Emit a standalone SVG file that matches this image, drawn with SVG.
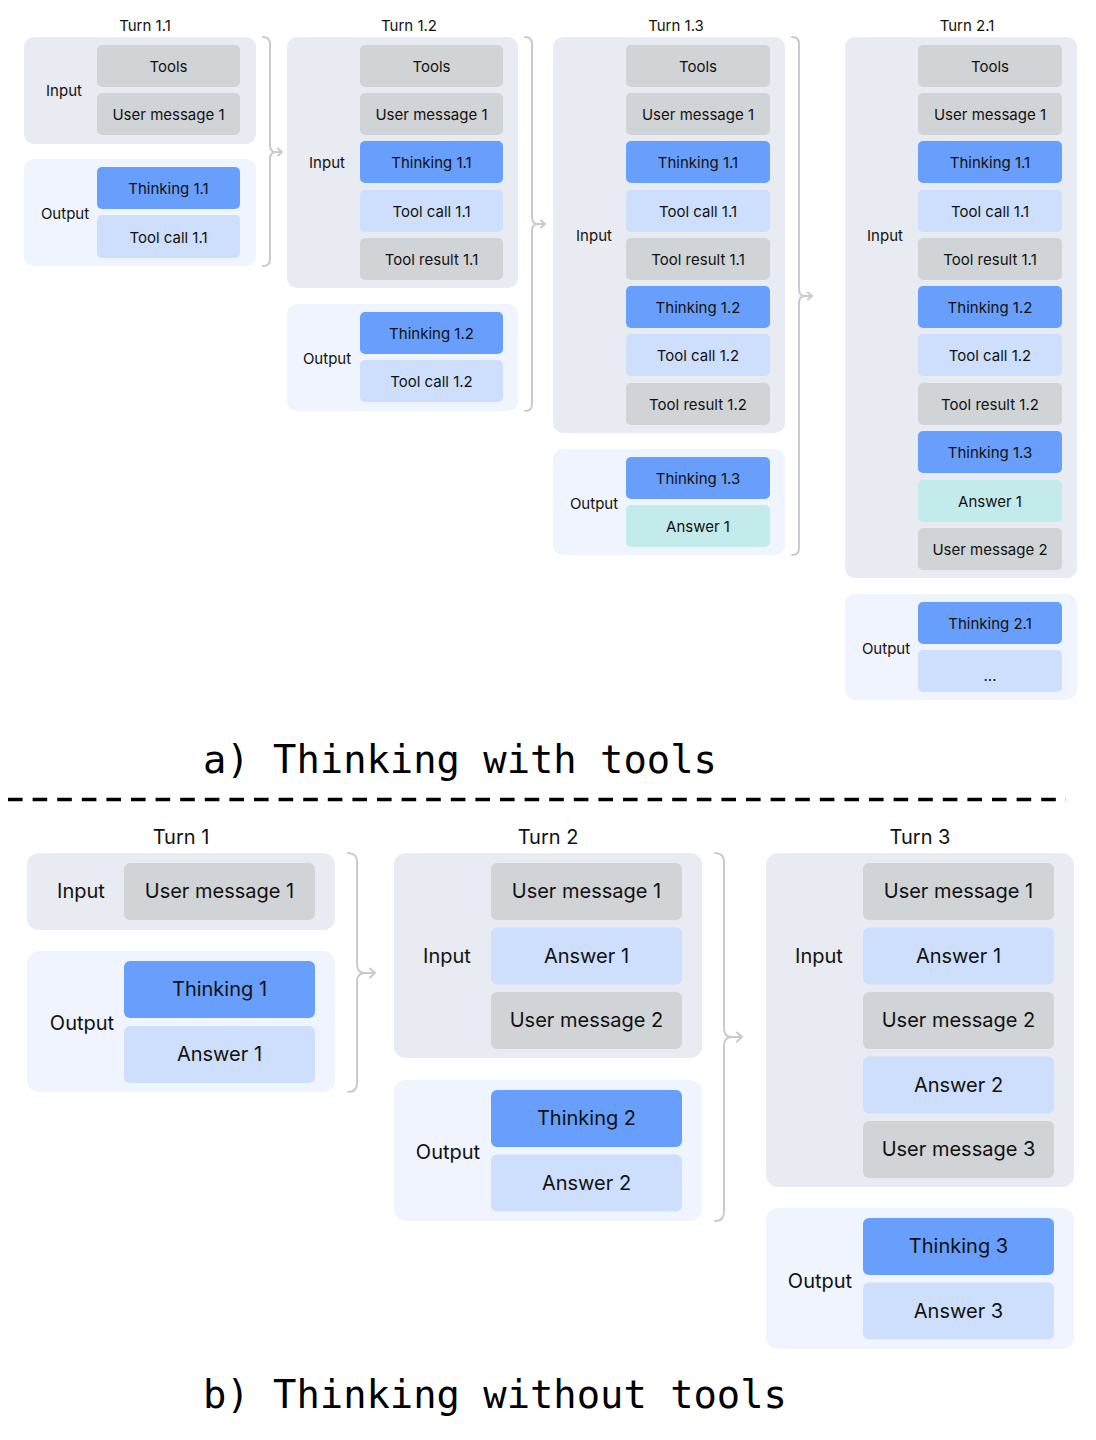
<svg xmlns="http://www.w3.org/2000/svg" width="1096" height="1440" viewBox="0 0 1096 1440">
<style>
text{font-family:Inter,"Noto Sans","Liberation Sans",sans-serif;fill:#111;text-anchor:middle}
.sa{font-size:15px}
.sb{font-size:20px}
.pin{fill:#e8ebf1}
.pout{fill:#eff4fe}
.g{fill:#d1d4d7}
.t{fill:#689ffc}
.l{fill:#cddffc}
.a{fill:#c4ebeb}
.br{fill:none;stroke:#c9cbcf;stroke-width:2;stroke-linecap:round;stroke-linejoin:round}
.ttl{font-family:"DejaVu Sans Mono","Liberation Mono",monospace;font-size:38.8px;text-anchor:start;fill:#000}
</style>
<rect width="1096" height="1440" fill="#fff"/>

<!-- Part a -->
<g id="turn11" class="sa">
<text x="145" y="31">Turn 1.1</text>
<rect class="pin" x="24" y="37" width="232" height="107" rx="10"/>
<text x="64" y="96">Input</text>
<rect class="g" x="97" y="45" width="143" height="42" rx="5"/><text x="168.5" y="72">Tools</text>
<rect class="g" x="97" y="93" width="143" height="42" rx="5"/><text x="168.5" y="120">User message 1</text>
<rect class="pout" x="24" y="159" width="232" height="107" rx="10"/>
<text x="65" y="219">Output</text>
<rect class="t" x="97" y="167" width="143" height="42" rx="5"/><text x="168.5" y="194">Thinking 1.1</text>
<rect class="l" x="97" y="215" width="143" height="43" rx="5"/><text x="168.5" y="243">Tool call 1.1</text>
</g>

<g id="turn12" class="sa">
<text x="409" y="31">Turn 1.2</text>
<rect class="pin" x="287" y="37" width="231" height="251" rx="10"/>
<text x="327" y="168">Input</text>
<rect class="g" x="360" y="45" width="143" height="42" rx="5"/><text x="431.5" y="72">Tools</text>
<rect class="g" x="360" y="93" width="143" height="42" rx="5"/><text x="431.5" y="120">User message 1</text>
<rect class="t" x="360" y="141" width="143" height="42" rx="5"/><text x="431.5" y="168">Thinking 1.1</text>
<rect class="l" x="360" y="190" width="143" height="42" rx="5"/><text x="431.5" y="217">Tool call 1.1</text>
<rect class="g" x="360" y="238" width="143" height="42" rx="5"/><text x="431.5" y="265">Tool result 1.1</text>
<rect class="pout" x="287" y="304" width="231" height="107" rx="10"/>
<text x="327" y="364">Output</text>
<rect class="t" x="360" y="312" width="143" height="42" rx="5"/><text x="431.5" y="339">Thinking 1.2</text>
<rect class="l" x="360" y="360" width="143" height="42" rx="5"/><text x="431.5" y="387">Tool call 1.2</text>
</g>

<g id="turn13" class="sa">
<text x="676" y="31">Turn 1.3</text>
<rect class="pin" x="553" y="37" width="232" height="396" rx="10"/>
<text x="594" y="241">Input</text>
<rect class="g" x="626" y="45" width="144" height="42" rx="5"/><text x="698" y="72">Tools</text>
<rect class="g" x="626" y="93" width="144" height="42" rx="5"/><text x="698" y="120">User message 1</text>
<rect class="t" x="626" y="141" width="144" height="42" rx="5"/><text x="698" y="168">Thinking 1.1</text>
<rect class="l" x="626" y="190" width="144" height="42" rx="5"/><text x="698" y="217">Tool call 1.1</text>
<rect class="g" x="626" y="238" width="144" height="42" rx="5"/><text x="698" y="265">Tool result 1.1</text>
<rect class="t" x="626" y="286" width="144" height="42" rx="5"/><text x="698" y="313">Thinking 1.2</text>
<rect class="l" x="626" y="334" width="144" height="42" rx="5"/><text x="698" y="361">Tool call 1.2</text>
<rect class="g" x="626" y="383" width="144" height="42" rx="5"/><text x="698" y="410">Tool result 1.2</text>
<rect class="pout" x="553" y="449" width="232" height="106" rx="10"/>
<text x="594" y="509">Output</text>
<rect class="t" x="626" y="457" width="144" height="42" rx="5"/><text x="698" y="484">Thinking 1.3</text>
<rect class="a" x="626" y="505" width="144" height="42" rx="5"/><text x="698" y="532">Answer 1</text>
</g>

<g id="turn21" class="sa">
<text x="967" y="31">Turn 2.1</text>
<rect class="pin" x="845" y="37" width="232" height="541" rx="10"/>
<text x="885" y="241">Input</text>
<rect class="g" x="918" y="45" width="144" height="42" rx="5"/><text x="990" y="72">Tools</text>
<rect class="g" x="918" y="93" width="144" height="42" rx="5"/><text x="990" y="120">User message 1</text>
<rect class="t" x="918" y="141" width="144" height="42" rx="5"/><text x="990" y="168">Thinking 1.1</text>
<rect class="l" x="918" y="190" width="144" height="42" rx="5"/><text x="990" y="217">Tool call 1.1</text>
<rect class="g" x="918" y="238" width="144" height="42" rx="5"/><text x="990" y="265">Tool result 1.1</text>
<rect class="t" x="918" y="286" width="144" height="42" rx="5"/><text x="990" y="313">Thinking 1.2</text>
<rect class="l" x="918" y="334" width="144" height="42" rx="5"/><text x="990" y="361">Tool call 1.2</text>
<rect class="g" x="918" y="383" width="144" height="42" rx="5"/><text x="990" y="410">Tool result 1.2</text>
<rect class="t" x="918" y="431" width="144" height="42" rx="5"/><text x="990" y="458">Thinking 1.3</text>
<rect class="a" x="918" y="480" width="144" height="42" rx="5"/><text x="990" y="507">Answer 1</text>
<rect class="g" x="918" y="528" width="144" height="42" rx="5"/><text x="990" y="555">User message 2</text>
<rect class="pout" x="845" y="594" width="232" height="106" rx="10"/>
<text x="886" y="654">Output</text>
<rect class="t" x="918" y="602" width="144" height="42" rx="5"/><text x="990" y="629">Thinking 2.1</text>
<rect class="l" x="918" y="650" width="144" height="42" rx="5"/><text x="990" y="681">...</text>
</g>

<!-- Part b -->
<g id="turn1" class="sb">
<text x="181" y="844">Turn 1</text>
<rect class="pin" x="27" y="853" width="308" height="77" rx="12"/>
<text x="81" y="898">Input</text>
<rect class="g" x="124" y="863" width="191" height="57" rx="6"/><text x="219.5" y="898">User message 1</text>
<rect class="pout" x="27" y="951" width="308" height="141" rx="12"/>
<text x="82" y="1030">Output</text>
<rect class="t" x="124" y="961" width="191" height="57" rx="6"/><text x="219.5" y="996">Thinking 1</text>
<rect class="l" x="124" y="1026" width="191" height="57" rx="6"/><text x="219.5" y="1061">Answer 1</text>
</g>

<g id="turn2" class="sb">
<text x="548" y="844">Turn 2</text>
<rect class="pin" x="394" y="853" width="308" height="205" rx="12"/>
<text x="447" y="963">Input</text>
<rect class="g" x="491" y="863" width="191" height="57" rx="6"/><text x="586.5" y="898">User message 1</text>
<rect class="l" x="491" y="927.5" width="191" height="57" rx="6"/><text x="586.5" y="962.5">Answer 1</text>
<rect class="g" x="491" y="992" width="191" height="57" rx="6"/><text x="586.5" y="1027">User message 2</text>
<rect class="pout" x="394" y="1080" width="308" height="141" rx="12"/>
<text x="448" y="1159">Output</text>
<rect class="t" x="491" y="1090" width="191" height="57" rx="6"/><text x="586.5" y="1125">Thinking 2</text>
<rect class="l" x="491" y="1154.5" width="191" height="57" rx="6"/><text x="586.5" y="1189.5">Answer 2</text>
</g>

<g id="turn3" class="sb">
<text x="920" y="844">Turn 3</text>
<rect class="pin" x="766" y="853" width="308" height="334" rx="12"/>
<text x="819" y="963">Input</text>
<rect class="g" x="863" y="863" width="191" height="57" rx="6"/><text x="958.5" y="898">User message 1</text>
<rect class="l" x="863" y="927.5" width="191" height="57" rx="6"/><text x="958.5" y="962.5">Answer 1</text>
<rect class="g" x="863" y="992" width="191" height="57" rx="6"/><text x="958.5" y="1027">User message 2</text>
<rect class="l" x="863" y="1056.5" width="191" height="57" rx="6"/><text x="958.5" y="1091.5">Answer 2</text>
<rect class="g" x="863" y="1121" width="191" height="57" rx="6"/><text x="958.5" y="1156">User message 3</text>
<rect class="pout" x="766" y="1208" width="308" height="141" rx="12"/>
<text x="820" y="1288">Output</text>
<rect class="t" x="863" y="1218" width="191" height="57" rx="6"/><text x="958.5" y="1253">Thinking 3</text>
<rect class="l" x="863" y="1282.5" width="191" height="57" rx="6"/><text x="958.5" y="1317.5">Answer 3</text>
</g>

<!-- Connectors (brackets with arrows) -->
<g id="connectors" class="br">
<path d="M263 37 Q270 37 270 44 L270 145 Q270 152 276 152 Q270 152 270 159 L270 259 Q270 266 263 266 M276 152 L282 152 M278 148.5 L282 152 L278 155.5"/>
<path d="M525 37 Q532 37 532 44 L532 217 Q532 224 538 224 Q532 224 532 231 L532 404 Q532 411 525 411 M538 224 L545 224 M541 220.5 L545 224 L541 227.5"/>
<path d="M792 37 Q799 37 799 44 L799 289 Q799 296 805 296 Q799 296 799 303 L799 548 Q799 555 792 555 M805 296 L812 296 M808 292.5 L812 296 L808 299.5"/>
<path d="M348 853 Q357 853 357 862 L357 964 Q357 973 365 973 Q357 973 357 982 L357 1083 Q357 1092 348 1092 M365 973 L375 973 M370 968.5 L375 973 L370 977.5"/>
<path d="M715 853 Q724 853 724 862 L724 1028 Q724 1037 732 1037 Q724 1037 724 1046 L724 1212 Q724 1221 715 1221 M732 1037 L742 1037 M737 1032.5 L742 1037 L737 1041.5"/>
</g>

<!-- Titles and divider -->
<text class="ttl" x="203" y="773">a) Thinking with tools</text>
<line x1="8" y1="799.5" x2="1066" y2="799.5" stroke="#000" stroke-width="3.5" stroke-dasharray="14.6 10"/>
<text class="ttl" x="203" y="1408">b) Thinking without tools</text>
</svg>
